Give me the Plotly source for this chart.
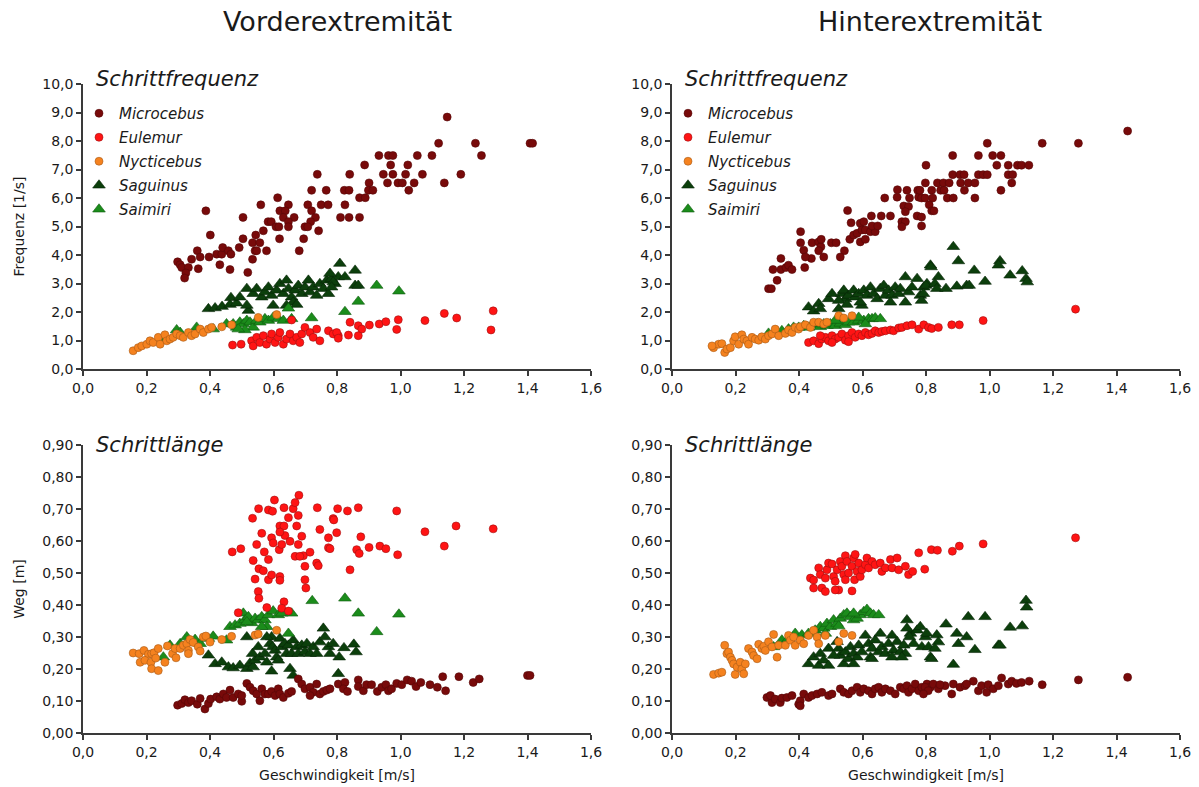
import plotly.graph_objects as go

# ---------------- data (speed [m/s], value) ----------------
# Vorderextremität - Schrittfrequenz [1/s]
VF_MICROCEBUS = [
    (1.147, 8.84), (1.12, 7.92), (1.236, 7.92), (1.408, 7.92), (1.416, 7.92),
    (0.932, 7.49), (0.962, 7.49), (0.976, 7.49), (1.053, 7.49), (1.099, 7.49), (1.255, 7.49),
    (0.887, 7.16), (0.969, 7.16), (1.023, 7.16),
    (0.738, 6.83), (0.84, 6.83), (0.946, 6.83), (0.976, 6.83), (1.016, 6.83), (1.069, 6.83), (1.19, 6.83),
    (0.901, 6.53), (0.959, 6.53), (0.992, 6.53), (1.006, 6.53), (1.043, 6.53), (1.138, 6.53),
    (0.72, 6.27), (0.766, 6.27), (0.823, 6.27), (0.838, 6.27), (0.899, 6.27), (0.913, 6.27), (1.026, 6.27),
    (0.613, 6.01), (0.871, 6.01), (0.889, 6.01),
    (0.56, 5.76), (0.647, 5.76), (0.708, 5.76), (0.75, 5.76), (0.772, 5.76), (0.825, 5.76),
    (0.387, 5.55), (0.62, 5.55), (0.637, 5.55), (0.72, 5.55),
    (0.504, 5.32), (0.631, 5.32), (0.665, 5.32), (0.732, 5.32), (0.811, 5.32), (0.838, 5.32), (0.871, 5.32),
    (0.583, 5.17), (0.593, 5.17), (0.647, 5.17), (0.717, 5.17),
    (0.608, 4.99), (0.617, 4.99), (0.647, 4.99), (0.699, 4.99), (0.708, 4.99),
    (0.544, 4.70), (0.568, 4.85), (0.742, 4.85), (0.401, 4.70),
    (0.504, 4.57), (0.619, 4.57), (0.695, 4.57),
    (0.36, 4.15), (0.397, 3.93), (0.421, 4.03), (0.437, 4.03), (0.44, 4.26), (0.458, 4.15), (0.466, 4.03),
    (0.492, 4.26), (0.534, 4.43), (0.542, 4.15), (0.547, 4.15), (0.534, 3.85), (0.557, 4.43), (0.578, 4.15),
    (0.519, 3.39), (0.463, 3.49), (0.431, 3.66), (0.369, 3.93), (0.363, 3.52), (0.342, 3.85), (0.298, 3.76),
    (0.306, 3.66), (0.311, 3.56), (0.332, 3.56), (0.324, 3.37), (0.32, 3.19), (0.681, 4.15)]
VF_EULEMUR = [
    (0.471, 0.84), (0.498, 0.87), (0.531, 0.99), (0.536, 0.81), (0.547, 1.11), (0.557, 0.93), (0.568, 1.17),
    (0.578, 0.87), (0.589, 1.05), (0.594, 1.23), (0.605, 0.93), (0.615, 1.11), (0.62, 1.28), (0.631, 0.87),
    (0.641, 1.05), (0.652, 1.23), (0.662, 0.99), (0.673, 1.11), (0.683, 0.93), (0.689, 1.23), (0.699, 1.46),
    (0.715, 1.28), (0.725, 1.11), (0.736, 1.40), (0.746, 0.99), (0.773, 1.34), (0.788, 1.23), (0.804, 1.17),
    (0.657, 1.72), (0.841, 1.64), (0.867, 1.52), (0.878, 1.40), (0.799, 1.28), (0.804, 1.08), (0.836, 1.19),
    (0.867, 1.17), (0.902, 1.54), (0.933, 1.58), (0.954, 1.66), (0.993, 1.73), (0.988, 1.39), (1.077, 1.70),
    (1.138, 1.95), (1.177, 1.79), (1.292, 2.04), (1.285, 1.37)]
VF_NYCTICEBUS = [
    (0.158, 0.64), (0.174, 0.75), (0.185, 0.81), (0.201, 0.87), (0.211, 0.99), (0.221, 0.93), (0.237, 1.11),
    (0.243, 0.87), (0.258, 1.20), (0.264, 0.99), (0.274, 1.05), (0.284, 1.11), (0.295, 1.23), (0.306, 1.17),
    (0.316, 1.11), (0.332, 1.28), (0.342, 1.17), (0.353, 1.23), (0.369, 1.40), (0.379, 1.28), (0.395, 1.40),
    (0.405, 1.46), (0.437, 1.48), (0.468, 1.55), (0.552, 1.81), (0.61, 1.91)]
VF_SAGUINUS = [
    (0.395, 2.11), (0.416, 2.14), (0.438, 2.19), (0.463, 2.26), (0.484, 2.31), (0.466, 2.50), (0.494, 2.52),
    (0.516, 2.82), (0.521, 2.05), (0.516, 2.23), (0.536, 2.64), (0.547, 2.82), (0.563, 2.52), (0.573, 2.70),
    (0.584, 2.87), (0.594, 2.58), (0.599, 2.23), (0.61, 2.76), (0.62, 2.99), (0.631, 2.64), (0.641, 3.11),
    (0.647, 2.82), (0.657, 2.52), (0.668, 2.76), (0.678, 2.93), (0.689, 2.64), (0.699, 2.87), (0.71, 3.11),
    (0.715, 2.70), (0.725, 2.87), (0.736, 2.58), (0.746, 2.99), (0.757, 2.82), (0.768, 3.11), (0.773, 2.64),
    (0.783, 3.17), (0.794, 2.99), (0.804, 3.23), (0.809, 3.70), (0.641, 2.23), (0.662, 2.34), (0.673, 2.26),
    (0.857, 3.46), (0.778, 3.35), (0.788, 3.05), (0.825, 3.23), (0.857, 2.93), (0.867, 2.93), (0.783, 2.87)]
VF_SAIMIRI = [
    (0.262, 1.08), (0.295, 1.37), (0.306, 1.28), (0.358, 1.46), (0.41, 1.40), (0.452, 1.58), (0.473, 1.58),
    (0.484, 1.46), (0.494, 1.64), (0.505, 1.58), (0.516, 1.70), (0.526, 1.64), (0.536, 1.46), (0.547, 1.70),
    (0.557, 1.64), (0.573, 1.76), (0.584, 1.70), (0.599, 1.81), (0.615, 1.76), (0.631, 1.70), (0.657, 1.76),
    (0.51, 1.37), (0.489, 1.40), (0.647, 2.13), (0.72, 1.79), (0.925, 2.93), (0.995, 2.73), (0.867, 2.37),
    (0.825, 2.01)]

# Hinterextremität - Schrittfrequenz [1/s]
HF_MICROCEBUS = [
    (0.304, 2.82), (0.313, 2.82), (0.331, 3.11), (0.318, 3.49), (0.343, 3.49), (0.359, 3.56), (0.367, 3.64),
    (0.378, 3.49), (0.343, 3.88), (0.418, 3.56), (0.405, 4.43), (0.405, 4.82), (0.415, 4.17), (0.441, 4.43),
    (0.462, 4.46), (0.469, 4.29), (0.462, 4.15), (0.478, 3.93), (0.439, 3.88), (0.42, 3.93), (0.47, 4.55),
    (0.502, 4.43), (0.517, 4.43), (0.543, 4.15), (0.53, 3.93), (0.553, 5.56), (0.564, 5.13), (0.56, 4.55),
    (0.572, 4.70), (0.583, 4.76), (0.593, 5.11), (0.604, 5.17), (0.598, 4.88), (0.609, 4.88), (0.625, 4.82),
    (0.64, 4.82), (0.593, 4.46), (0.609, 4.55), (0.63, 5.02), (0.628, 5.37), (0.659, 5.37), (0.688, 5.37),
    (0.648, 5.02), (0.67, 6.0), (0.709, 6.03), (0.74, 6.27), (0.748, 6.0), (0.774, 6.27), (0.777, 6.03),
    (0.73, 5.72), (0.745, 5.70), (0.735, 5.52), (0.724, 5.17), (0.735, 5.17), (0.772, 5.37), (0.724, 4.99),
    (0.71, 6.29),
    (1.435, 8.35), (0.993, 7.92), (1.166, 7.92), (1.28, 7.92), (0.884, 7.49), (0.965, 7.49), (1.01, 7.49),
    (1.036, 7.49), (0.80, 7.15), (1.023, 7.15), (1.059, 7.15), (1.088, 7.15), (1.101, 7.15), (1.124, 7.15),
    (0.884, 6.82), (0.907, 6.82), (0.92, 6.82), (0.965, 6.82), (0.98, 6.82), (0.993, 6.82), (1.059, 6.82),
    (1.073, 6.82), (0.798, 6.53), (0.836, 6.53), (0.855, 6.53), (0.873, 6.53), (0.909, 6.53), (0.933, 6.53),
    (0.954, 6.53), (1.07, 6.53), (0.781, 6.27), (0.818, 6.27), (0.846, 6.27), (0.857, 6.27), (0.921, 6.27),
    (1.036, 6.27), (0.786, 6.0), (0.797, 6.0), (0.821, 6.0), (0.867, 6.0), (0.886, 6.0), (0.954, 6.0),
    (0.81, 5.76), (0.818, 5.55), (0.825, 5.55), (0.786, 5.33), (0.786, 5.02)]
HF_EULEMUR = [
    (0.43, 0.93), (0.446, 0.99), (0.462, 0.89), (0.472, 1.05), (0.483, 1.11), (0.493, 0.99), (0.504, 1.17),
    (0.514, 1.05), (0.525, 1.11), (0.535, 1.23), (0.546, 1.01), (0.556, 1.17), (0.567, 1.28), (0.577, 1.11),
    (0.588, 1.23), (0.598, 1.17), (0.609, 1.28), (0.619, 1.20), (0.63, 1.25), (0.64, 1.34), (0.651, 1.28),
    (0.661, 1.32), (0.672, 1.34), (0.688, 1.37), (0.698, 1.34), (0.714, 1.44), (0.724, 1.46), (0.74, 1.52),
    (0.756, 1.55), (0.777, 1.40), (0.793, 1.55), (0.808, 1.46), (0.504, 0.93), (0.556, 0.96), (0.467, 1.17),
    (0.818, 1.42), (0.839, 1.46), (0.881, 1.55), (0.905, 1.55), (0.98, 1.70), (1.271, 2.10)]
HF_NYCTICEBUS = [
    (0.131, 0.75), (0.147, 0.87), (0.157, 0.89), (0.166, 0.58), (0.173, 0.70), (0.184, 0.75), (0.194, 0.99),
    (0.199, 1.13), (0.21, 0.87), (0.22, 1.20), (0.226, 1.05), (0.236, 0.99), (0.241, 0.87), (0.252, 1.11),
    (0.262, 1.05), (0.273, 1.01), (0.283, 1.13), (0.294, 1.05), (0.304, 1.17), (0.315, 1.23), (0.325, 1.40),
    (0.336, 1.17), (0.357, 1.25), (0.367, 1.37), (0.378, 1.28), (0.388, 1.46), (0.399, 1.40), (0.404, 1.48),
    (0.42, 1.55), (0.436, 1.46), (0.446, 1.64), (0.462, 1.64), (0.478, 1.58), (0.488, 1.64), (0.525, 1.87),
    (0.541, 1.79), (0.567, 1.87), (0.126, 0.81)]
HF_SAGUINUS = [
    (0.43, 2.17), (0.446, 2.03), (0.462, 2.29), (0.467, 2.11), (0.493, 2.46), (0.504, 2.64), (0.525, 2.11),
    (0.535, 2.64), (0.541, 2.76), (0.546, 2.46), (0.556, 2.58), (0.572, 2.76), (0.577, 2.52), (0.588, 2.64),
    (0.598, 2.23), (0.604, 2.76), (0.614, 2.58), (0.625, 2.87), (0.635, 2.64), (0.646, 2.46), (0.656, 2.82),
    (0.667, 2.93), (0.672, 2.58), (0.682, 2.76), (0.693, 2.58), (0.703, 2.87), (0.714, 2.64), (0.719, 2.82),
    (0.735, 3.23), (0.735, 2.34), (0.745, 2.70), (0.756, 2.87), (0.772, 3.17), (0.782, 2.58), (0.793, 2.87),
    (0.803, 2.99), (0.814, 3.64), (0.525, 2.40), (0.593, 2.34), (0.551, 2.26), (0.688, 2.34),
    (0.886, 4.29), (0.902, 3.79), (1.033, 3.79), (1.028, 3.64), (0.816, 3.58), (0.952, 3.46), (1.065, 3.29),
    (1.103, 3.44), (1.115, 3.17), (1.119, 3.05), (0.986, 3.07), (0.839, 3.23), (0.80, 2.93), (0.828, 2.99),
    (0.834, 2.82), (0.863, 2.82), (0.897, 2.90), (0.928, 2.93), (0.936, 2.93), (0.786, 2.40), (0.792, 2.64)]
HF_SAIMIRI = [
    (0.325, 1.28), (0.346, 1.34), (0.367, 1.40), (0.383, 1.46), (0.399, 1.46), (0.415, 1.52), (0.43, 1.46),
    (0.441, 1.55), (0.457, 1.58), (0.467, 1.48), (0.478, 1.58), (0.488, 1.52), (0.499, 1.58), (0.514, 1.52),
    (0.53, 1.60), (0.546, 1.55), (0.556, 1.64), (0.572, 1.64), (0.588, 1.70), (0.604, 1.70), (0.619, 1.76),
    (0.63, 1.76), (0.64, 1.79), (0.656, 1.76), (0.304, 1.25), (0.514, 1.70), (0.588, 1.81), (0.609, 1.58)]

# Vorderextremität - Schrittlänge [m]
VL_MICROCEBUS = [
    (0.298, 0.087), (0.311, 0.092), (0.321, 0.104), (0.332, 0.095), (0.342, 0.101), (0.36, 0.090),
    (0.369, 0.108), (0.384, 0.075), (0.395, 0.092), (0.402, 0.106), (0.421, 0.113), (0.431, 0.106),
    (0.442, 0.122), (0.452, 0.111), (0.463, 0.134), (0.473, 0.111), (0.489, 0.122), (0.50, 0.099),
    (0.50, 0.117), (0.516, 0.155), (0.526, 0.143), (0.536, 0.132), (0.547, 0.122), (0.557, 0.101),
    (0.563, 0.138), (0.573, 0.122), (0.584, 0.122), (0.594, 0.130), (0.605, 0.117), (0.615, 0.138),
    (0.62, 0.122), (0.631, 0.111), (0.647, 0.124), (0.657, 0.130), (0.678, 0.169), (0.689, 0.153),
    (0.699, 0.138), (0.715, 0.143), (0.725, 0.127), (0.715, 0.117), (0.736, 0.153), (0.746, 0.122),
    (0.757, 0.130), (0.768, 0.134), (0.804, 0.153), (0.825, 0.158), (0.82, 0.138), (0.833, 0.130),
    (0.867, 0.166), (0.867, 0.145), (0.883, 0.132), (0.893, 0.151), (0.909, 0.151), (0.927, 0.130),
    (0.941, 0.143), (0.954, 0.151), (0.962, 0.132), (0.972, 0.138), (0.988, 0.155), (1.004, 0.151),
    (1.021, 0.166), (1.035, 0.162), (1.049, 0.145), (1.064, 0.158), (1.093, 0.151), (1.116, 0.143),
    (1.133, 0.176), (1.142, 0.132), (1.184, 0.176), (1.229, 0.158), (1.248, 0.169), (1.40, 0.180),
    (1.408, 0.180), (0.778, 0.138)]
VL_EULEMUR = [
    (0.68, 0.743), (0.603, 0.728), (0.633, 0.704), (0.662, 0.701), (0.668, 0.720), (0.553, 0.701),
    (0.584, 0.697), (0.597, 0.693), (0.534, 0.671), (0.647, 0.673), (0.678, 0.680), (0.738, 0.704),
    (0.788, 0.670), (0.802, 0.701), (0.563, 0.624), (0.594, 0.610), (0.599, 0.594), (0.62, 0.647),
    (0.633, 0.647), (0.636, 0.617), (0.618, 0.573), (0.626, 0.589), (0.652, 0.599), (0.673, 0.647),
    (0.678, 0.589), (0.689, 0.615), (0.694, 0.554), (0.715, 0.565), (0.668, 0.552), (0.683, 0.552),
    (0.746, 0.636), (0.773, 0.610), (0.773, 0.579), (0.799, 0.626), (0.470, 0.566), (0.497, 0.576),
    (0.547, 0.589), (0.571, 0.566), (0.584, 0.542), (0.536, 0.539), (0.554, 0.513), (0.568, 0.507),
    (0.584, 0.479), (0.542, 0.481), (0.594, 0.494), (0.62, 0.489), (0.62, 0.477), (0.699, 0.521),
    (0.699, 0.479), (0.736, 0.531), (0.741, 0.523), (0.552, 0.442), (0.554, 0.421), (0.633, 0.410),
    (0.579, 0.392), (0.626, 0.390), (0.647, 0.381), (0.489, 0.376), (0.702, 0.453), (0.62, 0.628),
    (0.833, 0.694), (0.867, 0.704), (0.988, 0.694), (0.79, 0.666), (0.778, 0.576), (0.875, 0.613),
    (0.862, 0.573), (0.87, 0.561), (0.901, 0.580), (0.935, 0.584), (0.954, 0.576), (0.991, 0.557),
    (0.841, 0.510), (1.077, 0.629), (1.175, 0.647), (1.292, 0.638), (1.138, 0.584)]
VL_NYCTICEBUS = [
    (0.158, 0.250), (0.177, 0.248), (0.192, 0.258), (0.206, 0.246), (0.216, 0.248), (0.224, 0.251),
    (0.237, 0.264), (0.18, 0.221), (0.195, 0.227), (0.214, 0.221), (0.229, 0.234), (0.216, 0.201),
    (0.237, 0.195), (0.258, 0.221), (0.266, 0.272), (0.282, 0.248), (0.29, 0.264), (0.293, 0.235),
    (0.306, 0.264), (0.316, 0.274), (0.327, 0.279), (0.332, 0.258), (0.337, 0.292), (0.347, 0.283),
    (0.363, 0.269), (0.369, 0.256), (0.379, 0.300), (0.387, 0.303), (0.40, 0.284), (0.437, 0.292),
    (0.468, 0.302), (0.542, 0.306), (0.552, 0.309), (0.61, 0.321), (0.332, 0.248)]
VL_SAGUINUS = [
    (0.395, 0.243), (0.416, 0.216), (0.437, 0.221), (0.458, 0.206), (0.473, 0.203), (0.494, 0.211),
    (0.516, 0.201), (0.526, 0.218), (0.536, 0.206), (0.542, 0.227), (0.534, 0.248), (0.552, 0.269),
    (0.557, 0.237), (0.573, 0.248), (0.579, 0.221), (0.589, 0.279), (0.594, 0.300), (0.597, 0.269),
    (0.605, 0.258), (0.61, 0.237), (0.615, 0.227), (0.594, 0.193), (0.62, 0.295), (0.626, 0.269),
    (0.636, 0.279), (0.641, 0.248), (0.647, 0.274), (0.652, 0.201), (0.657, 0.248), (0.662, 0.290),
    (0.673, 0.269), (0.678, 0.248), (0.689, 0.274), (0.699, 0.253), (0.705, 0.279), (0.715, 0.248),
    (0.725, 0.269), (0.736, 0.248), (0.746, 0.284), (0.757, 0.327), (0.762, 0.300), (0.773, 0.269),
    (0.778, 0.248), (0.788, 0.279), (0.804, 0.185), (0.516, 0.300), (0.662, 0.180), (0.579, 0.300),
    (0.822, 0.266), (0.853, 0.277), (0.86, 0.253), (0.807, 0.237)]
VL_SAIMIRI = [
    (0.722, 0.413), (0.647, 0.311), (0.253, 0.237), (0.274, 0.274), (0.306, 0.279), (0.327, 0.300),
    (0.353, 0.292), (0.369, 0.279), (0.395, 0.295), (0.41, 0.302), (0.452, 0.290), (0.463, 0.332),
    (0.479, 0.337), (0.494, 0.342), (0.505, 0.374), (0.51, 0.353), (0.521, 0.363), (0.531, 0.344),
    (0.542, 0.358), (0.552, 0.353), (0.563, 0.363), (0.573, 0.353), (0.579, 0.332), (0.584, 0.369),
    (0.599, 0.381), (0.615, 0.369), (0.626, 0.374), (0.657, 0.374), (0.563, 0.332), (0.516, 0.347),
    (0.825, 0.421), (0.867, 0.374), (0.925, 0.316), (0.995, 0.371)]

# Hinterextremität - Schrittlänge [m]
HL_MICROCEBUS = [
    (0.299, 0.111), (0.315, 0.095), (0.31, 0.117), (0.325, 0.106), (0.341, 0.095), (0.346, 0.109),
    (0.362, 0.111), (0.378, 0.117), (0.399, 0.090), (0.404, 0.101), (0.415, 0.122), (0.43, 0.111),
    (0.441, 0.117), (0.457, 0.122), (0.472, 0.127), (0.493, 0.117), (0.504, 0.122), (0.53, 0.138),
    (0.541, 0.127), (0.556, 0.122), (0.567, 0.132), (0.583, 0.143), (0.593, 0.127), (0.604, 0.138),
    (0.619, 0.132), (0.63, 0.122), (0.64, 0.138), (0.651, 0.143), (0.661, 0.127), (0.672, 0.138),
    (0.688, 0.132), (0.703, 0.122), (0.719, 0.143), (0.73, 0.138), (0.74, 0.148), (0.745, 0.127),
    (0.756, 0.138), (0.766, 0.153), (0.777, 0.132), (0.787, 0.143), (0.803, 0.153), (0.814, 0.143),
    (0.404, 0.085), (0.797, 0.143), (0.807, 0.132), (0.823, 0.153), (0.839, 0.138), (0.86, 0.148),
    (0.881, 0.122), (0.886, 0.153), (0.907, 0.143), (0.923, 0.148), (0.949, 0.162), (0.965, 0.132),
    (0.975, 0.148), (0.991, 0.127), (0.996, 0.151), (1.012, 0.138), (1.028, 0.148), (1.038, 0.172),
    (1.059, 0.153), (1.07, 0.162), (1.085, 0.155), (1.101, 0.158), (1.125, 0.162), (1.166, 0.151),
    (1.28, 0.166), (1.435, 0.174), (0.792, 0.122), (0.844, 0.151), (0.928, 0.153)]
HL_EULEMUR = [
    (0.436, 0.484), (0.446, 0.478), (0.462, 0.516), (0.467, 0.495), (0.472, 0.453), (0.483, 0.442),
    (0.483, 0.484), (0.488, 0.510), (0.493, 0.531), (0.504, 0.528), (0.509, 0.489), (0.514, 0.474),
    (0.52, 0.510), (0.525, 0.447), (0.53, 0.536), (0.535, 0.521), (0.541, 0.495), (0.546, 0.554),
    (0.546, 0.479), (0.551, 0.536), (0.556, 0.500), (0.567, 0.521), (0.572, 0.547), (0.575, 0.479),
    (0.577, 0.558), (0.583, 0.505), (0.588, 0.531), (0.593, 0.489), (0.598, 0.510), (0.609, 0.526),
    (0.614, 0.547), (0.619, 0.516), (0.63, 0.536), (0.64, 0.526), (0.656, 0.531), (0.661, 0.505),
    (0.672, 0.516), (0.688, 0.542), (0.693, 0.516), (0.709, 0.547), (0.714, 0.510), (0.735, 0.521),
    (0.745, 0.495), (0.758, 0.505), (0.777, 0.563), (0.796, 0.512), (0.817, 0.573), (0.446, 0.453),
    (0.567, 0.444), (0.514, 0.447), (0.836, 0.571), (0.883, 0.568), (0.905, 0.584), (0.98, 0.591),
    (1.271, 0.610)]
HL_NYCTICEBUS = [
    (0.131, 0.183), (0.147, 0.187), (0.157, 0.190), (0.166, 0.274), (0.173, 0.248), (0.178, 0.253),
    (0.184, 0.237), (0.189, 0.227), (0.194, 0.216), (0.199, 0.183), (0.205, 0.206), (0.215, 0.221),
    (0.22, 0.200), (0.226, 0.185), (0.231, 0.216), (0.241, 0.264), (0.252, 0.253), (0.257, 0.242),
    (0.268, 0.232), (0.273, 0.277), (0.283, 0.264), (0.289, 0.271), (0.294, 0.258), (0.304, 0.285),
    (0.315, 0.269), (0.32, 0.308), (0.331, 0.237), (0.336, 0.274), (0.357, 0.274), (0.367, 0.305),
    (0.373, 0.290), (0.383, 0.300), (0.388, 0.274), (0.404, 0.290), (0.415, 0.279), (0.43, 0.305),
    (0.446, 0.321), (0.457, 0.300), (0.462, 0.279), (0.483, 0.305), (0.541, 0.311), (0.567, 0.305),
    (0.525, 0.285)]
HL_SAGUINUS = [
    (0.43, 0.216), (0.446, 0.237), (0.462, 0.211), (0.467, 0.248), (0.478, 0.227), (0.493, 0.211),
    (0.493, 0.264), (0.52, 0.285), (0.525, 0.264), (0.53, 0.242), (0.541, 0.216), (0.546, 0.253),
    (0.556, 0.232), (0.562, 0.269), (0.572, 0.248), (0.583, 0.237), (0.588, 0.274), (0.598, 0.253),
    (0.609, 0.305), (0.619, 0.279), (0.625, 0.237), (0.63, 0.264), (0.64, 0.290), (0.651, 0.253),
    (0.656, 0.311), (0.661, 0.269), (0.672, 0.248), (0.682, 0.279), (0.693, 0.305), (0.698, 0.258),
    (0.709, 0.285), (0.719, 0.253), (0.73, 0.274), (0.735, 0.248), (0.74, 0.353), (0.751, 0.311),
    (0.761, 0.279), (0.772, 0.321), (0.782, 0.332), (0.787, 0.269), (0.798, 0.300), (0.808, 0.269),
    (0.814, 0.237), (0.509, 0.242), (0.572, 0.216), (0.63, 0.232), (0.693, 0.237), (0.724, 0.237),
    (0.74, 0.327), (0.748, 0.300),
    (1.115, 0.414), (1.117, 0.393), (0.933, 0.363), (0.986, 0.363), (0.863, 0.340), (1.065, 0.330),
    (1.103, 0.334), (0.802, 0.311), (0.834, 0.306), (0.839, 0.284), (0.897, 0.311), (0.928, 0.300),
    (0.902, 0.279), (0.954, 0.260), (1.028, 0.274), (1.033, 0.274), (0.828, 0.264), (0.818, 0.232),
    (0.886, 0.214)]
HL_SAIMIRI = [
    (0.32, 0.269), (0.346, 0.290), (0.367, 0.295), (0.388, 0.311), (0.409, 0.306), (0.43, 0.311),
    (0.451, 0.321), (0.467, 0.332), (0.478, 0.327), (0.488, 0.342), (0.499, 0.332), (0.509, 0.353),
    (0.52, 0.342), (0.53, 0.358), (0.541, 0.369), (0.551, 0.374), (0.562, 0.363), (0.572, 0.353),
    (0.583, 0.358), (0.593, 0.369), (0.604, 0.379), (0.614, 0.386), (0.625, 0.374), (0.635, 0.369),
    (0.651, 0.369), (0.525, 0.334), (0.483, 0.311), (0.572, 0.374)]

SPECIES = ["Microcebus", "Eulemur", "Nycticebus", "Saguinus", "Saimiri"]
X_TICKS = [0.0, 0.2, 0.4, 0.6, 0.8, 1.0, 1.2, 1.4, 1.6]

PANELS = {
    "VF": dict(Microcebus=VF_MICROCEBUS, Eulemur=VF_EULEMUR, Nycticebus=VF_NYCTICEBUS,
               Saguinus=VF_SAGUINUS, Saimiri=VF_SAIMIRI),
    "HF": dict(Microcebus=HF_MICROCEBUS, Eulemur=HF_EULEMUR, Nycticebus=HF_NYCTICEBUS,
               Saguinus=HF_SAGUINUS, Saimiri=HF_SAIMIRI),
    "VL": dict(Microcebus=VL_MICROCEBUS, Eulemur=VL_EULEMUR, Nycticebus=VL_NYCTICEBUS,
               Saguinus=VL_SAGUINUS, Saimiri=VL_SAIMIRI),
    "HL": dict(Microcebus=HL_MICROCEBUS, Eulemur=HL_EULEMUR, Nycticebus=HL_NYCTICEBUS,
               Saguinus=HL_SAGUINUS, Saimiri=HL_SAIMIRI),
}

# ---------------- styling ----------------
FONT = "DejaVu Sans"
TXT = "#1a1a1a"
AXC = "#3a3a3a"
STYLE = {
    "Microcebus": dict(color="#780a0a", symbol="circle", size=8, line="#560606"),
    "Eulemur": dict(color="#ff1414", symbol="circle", size=8, line="#a01010"),
    "Nycticebus": dict(color="#f5821f", symbol="circle", size=8, line="#a85a18"),
    "Saguinus": dict(color="#0c3f0c", symbol="triangle-up", size=11, line="#072507"),
    "Saimiri": dict(color="#1b8c1b", symbol="triangle-up", size=11, line="#0f5a0f"),
}
DRAW_ORDER = ["Saguinus", "Saimiri", "Microcebus", "Eulemur", "Nycticebus"]
AXREF = {"VF": ("x", "y"), "HF": ("x2", "y2"), "VL": ("x3", "y3"), "HL": ("x4", "y4")}
LEGEND = {"VF": "legend", "HF": "legend2"}

fig = go.Figure()
for panel, series in PANELS.items():
    xa, ya = AXREF[panel]
    for sp in DRAW_ORDER:
        pts = series[sp]
        st = STYLE[sp]
        fig.add_trace(go.Scatter(
            x=[p[0] for p in pts], y=[p[1] for p in pts],
            mode="markers", name=sp, xaxis=xa, yaxis=ya,
            legendgroup=sp, legendrank=SPECIES.index(sp) + 1,
            legend=LEGEND.get(panel, "legend"),
            showlegend=panel in LEGEND,
            marker=dict(color=st["color"], symbol=st["symbol"], size=st["size"],
                        line=dict(color=st["line"], width=0.6)),
            hovertemplate=sp + ": %{x:.2f} m/s, %{y}<extra></extra>",
        ))

XL = [83 / 1199, 591 / 1199]
XR = [672 / 1199, 1180 / 1199]
YT = [1 - 369 / 787, 1 - 84 / 787]
YB = [1 - 733 / 787, 1 - 445 / 787]

def xax(dom, anchor, title=None):
    d = dict(domain=dom, anchor=anchor, range=[0, 1.6], tickvals=X_TICKS, tickformat=".1f",
             showline=True, linecolor=AXC, linewidth=1.5, ticks="outside", ticklen=5,
             tickwidth=1.5, tickcolor=AXC, showgrid=False, zeroline=False, automargin=False,
             tickfont=dict(family=FONT, size=14, color=TXT))
    if title:
        d["title"] = dict(text=title, font=dict(family=FONT, size=14, color=TXT), standoff=12)
    return d

def yax(dom, anchor, rng, dtick, fmt, title=None):
    d = dict(domain=dom, anchor=anchor, range=rng, dtick=dtick, tick0=0, tickformat=fmt,
             showline=True, linecolor=AXC, linewidth=1.5, ticks="outside", ticklen=5,
             tickwidth=1.5, tickcolor=AXC, showgrid=False, zeroline=False, automargin=False,
             tickfont=dict(family=FONT, size=14, color=TXT))
    if title:
        d["title"] = dict(text=title, font=dict(family=FONT, size=14, color=TXT), standoff=14)
    return d

legend_common = dict(xanchor="left", yanchor="top", bgcolor="rgba(0,0,0,0)",
                     font=dict(family=FONT, size=15, color=TXT, style="italic"),
                     tracegroupgap=1.5, itemwidth=30, itemclick=False, itemdoubleclick=False)

fig.update_layout(
    width=1199, height=787,
    margin=dict(l=0, r=0, t=0, b=0, autoexpand=False),
    paper_bgcolor="white", plot_bgcolor="white",
    separators=",.",
    font=dict(family=FONT, color=TXT),
    xaxis=xax(XL, "y"), yaxis=yax(YT, "x", [0, 10], 1, ".1f", "Frequenz [1/s]"),
    xaxis2=xax(XR, "y2"), yaxis2=yax(YT, "x2", [0, 10], 1, ".1f"),
    xaxis3=xax(XL, "y3", "Geschwindigkeit [m/s]"),
    yaxis3=yax(YB, "x3", [0, 0.9], 0.1, ".2f", "Weg [m]"),
    xaxis4=xax(XR, "y4", "Geschwindigkeit [m/s]"),
    yaxis4=yax(YB, "x4", [0, 0.9], 0.1, ".2f"),
    legend=dict(x=79 / 1199, y=1 - 97 / 787, **legend_common),
    legend2=dict(x=668 / 1199, y=1 - 97 / 787, **legend_common),
    showlegend=True,
)

annots = [
    dict(text="Vorderextremität", x=337 / 1199, y=1 - 22 / 787, size=27, italic=False, xa="center"),
    dict(text="Hinterextremität", x=930 / 1199, y=1 - 22 / 787, size=27, italic=False, xa="center"),
    dict(text="Schrittfrequenz", x=94 / 1199, y=1 - 79 / 787, size=21, italic=True, xa="left"),
    dict(text="Schrittfrequenz", x=683 / 1199, y=1 - 79 / 787, size=21, italic=True, xa="left"),
    dict(text="Schrittlänge", x=94 / 1199, y=1 - 445 / 787, size=21, italic=True, xa="left"),
    dict(text="Schrittlänge", x=683 / 1199, y=1 - 445 / 787, size=21, italic=True, xa="left"),
]
for a in annots:
    fig.add_annotation(text=a["text"], x=a["x"], y=a["y"], xref="paper", yref="paper",
                       xanchor=a["xa"], yanchor="middle", showarrow=False,
                       font=dict(family=FONT, size=a["size"], color=TXT,
                                 style="italic" if a["italic"] else "normal"))

fig.write_html("out.html")
